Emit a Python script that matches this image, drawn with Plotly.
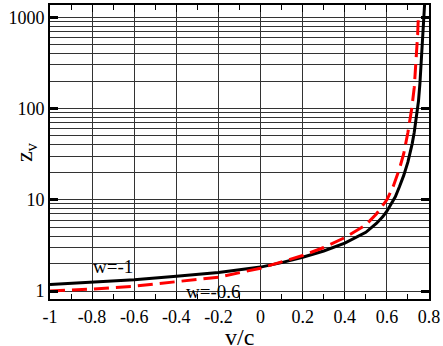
import math
import plotly.graph_objects as go

# curve w = -1 (black solid)
v_w1 = [-1.0, -0.8, -0.6, -0.4, -0.2, 0.0, 0.1, 0.2, 0.3, 0.4, 0.5, 0.55, 0.58, 0.6,
        0.62, 0.64, 0.66, 0.68, 0.70, 0.71, 0.72, 0.73, 0.74, 0.75, 0.757, 0.765,
        0.772, 0.78]
z_w1 = [1.18, 1.25, 1.33, 1.45, 1.60, 1.83, 2.05, 2.35, 2.75, 3.35, 4.4, 5.5, 6.5, 7.5,
        8.9, 10.8, 14, 18.5, 26, 32, 41, 55, 77, 120, 190, 370,
        700, 1500]

# curve w = -0.6 (red dashed)
v_w06 = [-1.0, -0.8, -0.6, -0.4, -0.2, 0.0, 0.1, 0.2, 0.3, 0.4, 0.5, 0.55, 0.6, 0.63,
         0.66, 0.68, 0.70, 0.718, 0.73, 0.742, 0.746, 0.75]
z_w06 = [1.0, 1.05, 1.13, 1.27, 1.42, 1.78, 2.08, 2.45, 3.0, 3.85, 5.3, 7.0, 10, 14,
         22, 32, 55, 100, 170, 420, 640, 1100]

x_ticks = [-1, -0.8, -0.6, -0.4, -0.2, 0, 0.2, 0.4, 0.6, 0.8]
x_ticktext = ["-1", "-0.8", "-0.6", "-0.4", "-0.2", "0", "0.2", "0.4", "0.6", "0.8"]
y_ticks = [1, 10, 100, 1000]
y_ticktext = ["1", "10", "100", "1000"]
y_minor = [m * 10 ** e for e in range(0, 3) for m in range(2, 10)]

FONT = "Liberation Serif"
GRID = "#333333"

fig = go.Figure()
fig.add_trace(go.Scatter(x=v_w1, y=z_w1, mode="lines",
                         line=dict(color="black", width=3), showlegend=False))
fig.add_trace(go.Scatter(x=v_w06, y=z_w06, mode="lines",
                         line=dict(color="#ff0000", width=3, dash="15px,7px"), showlegend=False))

fig.update_layout(
    width=443, height=346,
    margin=dict(l=50, r=13, t=3, b=47),
    paper_bgcolor="white", plot_bgcolor="white",
    font=dict(family=FONT, color="black", size=18),
    xaxis=dict(
        range=[-1, 0.8], tickvals=x_ticks, ticktext=x_ticktext,
        showgrid=True, gridcolor=GRID, gridwidth=1,
        ticks="inside", ticklen=7, tickwidth=1, tickcolor="black",
        showline=True, linecolor="black", linewidth=2, mirror="ticks",
        zeroline=False,
        minor=dict(dtick=0.1, tick0=0, ticks="inside", ticklen=5, tickcolor="black", showgrid=False),
        tickfont=dict(size=18, family=FONT),
    ),
    yaxis=dict(
        type="log", range=[-0.087, 3.134],
        tickvals=y_ticks, ticktext=y_ticktext,
        showgrid=True, gridcolor=GRID, gridwidth=1,
        ticks="inside", ticklen=8, tickwidth=3, tickcolor="black",
        showline=True, linecolor="black", linewidth=2, mirror="ticks",
        zeroline=False,
        minor=dict(tickmode="array", tickvals=y_minor, showgrid=True, gridcolor=GRID,
                   gridwidth=1, ticks=""),
        tickfont=dict(size=18, family=FONT),
    ),
    annotations=[
        dict(x=-0.70, y=math.log10(1.87), xref="x", yref="y", text="w=-1", showarrow=False,
             font=dict(family=FONT, size=19, color="black")),
        dict(x=-0.223, y=math.log10(1.0), xref="x", yref="y", text="w=-0.6", showarrow=False,
             font=dict(family=FONT, size=19, color="black")),
        dict(x=-0.108, y=0.5, xref="paper", yref="paper", text="z<sub>v</sub>", showarrow=False,
             textangle=-90, font=dict(family=FONT, size=24, color="black")),
        dict(x=0.5, y=-0.128, xref="paper", yref="paper", text="v/c", showarrow=False,
             yanchor="middle", font=dict(family=FONT, size=24, color="black")),
    ],
)

fig.write_html("out.html", config={"displayModeBar": False},
               post_script="document.body.style.margin='0px';document.body.style.overflow='hidden';")
